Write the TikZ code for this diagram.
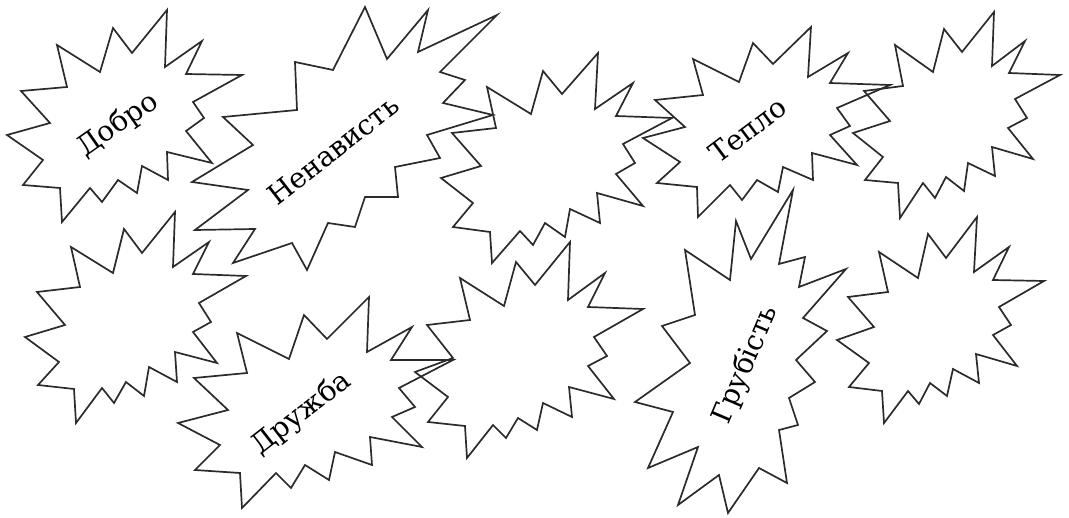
\documentclass[tikz,border=0pt]{standalone}
\usepackage{fontspec}
\setmainfont{DejaVu Serif}
\usepackage{tikz}
\definecolor{inkgray}{HTML}{2B2B2B}

\begin{document}
\begin{tikzpicture}[x=1pt,y=-1pt]
\tikzstyle{burst}=[draw=inkgray,line width=1.7pt]
\tikzstyle{word}=[inner sep=0pt,font=\fontsize{28}{30}\selectfont,text=black]
\useasboundingbox (0,0) rectangle (1069,518);
% top row
\draw[burst] (167,10) -- (165,67) -- (202,41) -- (186,74) -- (242,75) -- (193,102) -- (204,118) -- (186,131) -- (212,163) -- (167,152) -- (168,180) -- (142,166) -- (137,193) -- (118,180) -- (102,202) -- (90,188) -- (62,222) -- (60,188) -- (23,185) -- (43,160) -- (7,135) -- (50,123) -- (21,91) -- (67,87) -- (57,45) -- (100,72) -- (113,28) -- (132,53) -- cycle;
\draw[burst] (365,7) -- (387,59) -- (428,10) -- (418,52) -- (497,15) -- (440,72) -- (465,80) -- (443,103) -- (493,115) -- (427,135) -- (440,158) -- (395,167) -- (398,197) -- (365,197) -- (355,227) -- (328,223) -- (307,270) -- (292,243) -- (233,263) -- (255,229) -- (195,230) -- (248,190) -- (192,182) -- (253,145) -- (223,117) -- (297,110) -- (295,62) -- (333,70) -- cycle;
\draw[burst] (598,53) -- (595,109) -- (633,83) -- (616,116) -- (672,118) -- (623,144) -- (635,163) -- (616,174) -- (643,206) -- (597,193) -- (600,223) -- (570,209) -- (565,237) -- (545,223) -- (533,245) -- (520,231) -- (492,263) -- (490,232) -- (453,227) -- (473,203) -- (441,178) -- (481,166) -- (452,133) -- (496,128) -- (487,87) -- (531,114) -- (543,71) -- (562,94) -- cycle;
\draw[burst] (811,27) -- (808,77) -- (848,53) -- (830,83) -- (890,85) -- (837,108) -- (850,126) -- (830,135) -- (857,165) -- (812,153) -- (813,180) -- (783,167) -- (778,192) -- (757,180) -- (742,200) -- (730,185) -- (698,217) -- (697,187) -- (657,183) -- (680,162) -- (643,138) -- (685,127) -- (655,100) -- (703,95) -- (693,59) -- (739,82) -- (753,43) -- (773,64) -- cycle;
\draw[burst] (994,12) -- (992,66) -- (1025,41) -- (1009,73) -- (1060,75) -- (1015,99) -- (1027,118) -- (1008,128) -- (1033,159) -- (992,147) -- (995,176) -- (968,163) -- (964,191) -- (946,177) -- (935,198) -- (923,183) -- (900,218) -- (898,183) -- (865,180) -- (883,157) -- (853,133) -- (890,121) -- (864,91) -- (903,86) -- (895,45) -- (933,72) -- (944,29) -- (962,52) -- cycle;
% bottom row
\draw[burst] (175,212) -- (173,267) -- (209,242) -- (193,274) -- (246,276) -- (199,303) -- (211,322) -- (193,332) -- (217,363) -- (175,352) -- (177,382) -- (149,367) -- (144,396) -- (126,382) -- (114,403) -- (102,388) -- (76,423) -- (74,389) -- (38,385) -- (59,362) -- (25,337) -- (65,325) -- (37,292) -- (80,287) -- (71,247) -- (113,273) -- (124,229) -- (142,253) -- cycle;
\draw[burst] (369,297) -- (367,352) -- (412,327) -- (391,360) -- (453,360) -- (399,388) -- (415,407) -- (392,417) -- (422,447) -- (370,437) -- (372,465) -- (335,452) -- (329,480) -- (305,465) -- (291,488) -- (276,473) -- (242,508) -- (240,473) -- (195,470) -- (220,445) -- (178,423) -- (228,410) -- (194,378) -- (247,373) -- (237,333) -- (289,359) -- (304,315) -- (327,339) -- cycle;
\draw[burst] (570,242) -- (568,300) -- (605,273) -- (588,307) -- (643,309) -- (594,337) -- (607,356) -- (588,366) -- (614,399) -- (569,387) -- (572,417) -- (543,403) -- (537,430) -- (518,418) -- (506,438) -- (493,425) -- (467,458) -- (465,426) -- (428,422) -- (448,397) -- (415,372) -- (453,358) -- (427,325) -- (470,320) -- (460,278) -- (504,306) -- (516,262) -- (535,285) -- cycle;
\draw[burst] (793,190) -- (779,264) -- (805,257) -- (799,287) -- (846,269) -- (803,318) -- (827,331) -- (796,360) -- (815,382) -- (789,398) -- (798,425) -- (779,430) -- (787,483) -- (759,468) -- (728,513) -- (719,475) -- (678,505) -- (698,447) -- (648,468) -- (673,412) -- (635,402) -- (690,363) -- (662,326) -- (695,315) -- (685,250) -- (730,280) -- (736,221) -- (751,259) -- cycle;
\draw[burst] (977,217) -- (974,272) -- (1009,247) -- (993,280) -- (1044,281) -- (999,307) -- (1011,325) -- (993,335) -- (1017,366) -- (976,354) -- (979,383) -- (953,369) -- (947,396) -- (930,383) -- (919,404) -- (908,391) -- (884,423) -- (882,391) -- (849,387) -- (869,363) -- (837,340) -- (874,327) -- (848,297) -- (888,292) -- (879,252) -- (918,278) -- (928,234) -- (946,258) -- cycle;
% words
\node[word,rotate=35] (dobro) at (118,125) {Добро};
\node[word,rotate=38] (nenavyst) at (333,150) {Ненависть};
\node[word,rotate=37] (teplo) at (748,130) {Тепло};
\node[word,rotate=38] (druzhba) at (302,414) {Дружба};
\node[word,rotate=67] (grubist) at (746,365) {Грубість};
\end{tikzpicture}
\end{document}
